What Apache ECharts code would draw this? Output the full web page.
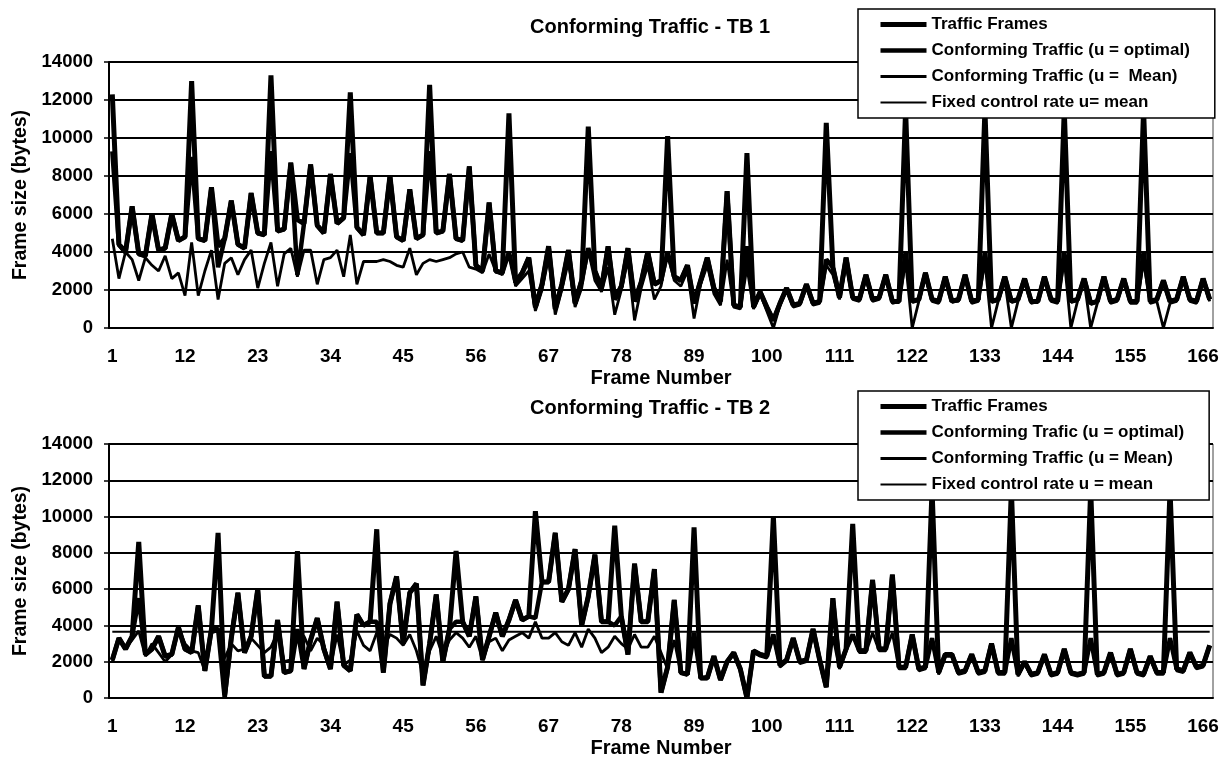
<!DOCTYPE html>
<html>
<head>
<meta charset="utf-8">
<title>Conforming Traffic</title>
<script src="https://cdn.jsdelivr.net/npm/echarts@6.0.0/dist/echarts.min.js"></script>
<style>
html, body { margin: 0; padding: 0; background: #fff; }
#report { width: 1222px; height: 759px; }
</style>
</head>
<body>
<div id="report"></div>
<script>
// frame numbers 1..167 (category axis)
var frames = [];
for (var i = 1; i <= 167; i++) frames.push(String(i));

// ---- TB 1 ----
var tb1Traffic = [
    12300, 4400, 4000, 6400, 3900, 3800, 6000, 4100, 4200, 6000, 4600, 4800,
    13000, 4700, 4600, 7400, 4300, 4700, 6700, 4400, 4200, 7100, 5000, 4900,
    13300, 5100, 5200, 8700, 5700, 5500, 8600, 5400, 5000, 8100, 5500, 5800,
    12400, 5300, 4900, 8000, 5000, 5000, 8000, 4800, 4600, 7300, 4700, 4900,
    12800, 5000, 5100, 8100, 4700, 4600, 8500, 3300, 3000, 6600, 3000, 2900,
    11300, 2400, 2900, 3700, 1100, 2300, 4300, 1000, 2300, 4100, 1300, 2500,
    10600, 3000, 2100, 4300, 1500, 2200, 4200, 1400, 2400, 4000, 2300, 2500,
    10100, 2700, 2500, 3300, 1300, 2500, 3700, 2100, 1400, 7200, 1200, 1100,
    9200, 1100, 1900, 1100, 400, 1300, 2100, 1200, 1300, 2300, 1300, 1400,
    10800, 3200, 1600, 3700, 1600, 1500, 2800, 1500, 1600, 2800, 1400, 1400,
    11500, 1400, 1500, 2900, 1500, 1400, 2700, 1400, 1500, 2800, 1400, 1500,
    11500, 1400, 1500, 2700, 1400, 1500, 2600, 1400, 1400, 2700, 1500, 1400,
    11500, 1400, 1500, 2600, 1300, 1400, 2700, 1400, 1500, 2600, 1400, 1400,
    11500, 1400, 1500, 2500, 1400, 1500, 2700, 1500, 1400, 2600, 1500
];
var tb1Optimal = [
    9300, 4400, 4000, 6400, 3900, 3800, 6000, 4100, 4200, 6000, 4600, 4800,
    9000, 4700, 4600, 7400, 3200, 4700, 6700, 4400, 4200, 7100, 5000, 4900,
    9300, 5100, 5200, 8700, 2800, 5500, 8600, 5400, 5000, 8100, 5500, 5800,
    9200, 5300, 4900, 8000, 5000, 5000, 8000, 4800, 4600, 7300, 4700, 4900,
    9300, 5000, 5100, 8100, 4700, 4600, 8500, 3300, 3000, 6600, 3000, 2900,
    4000, 2400, 2900, 3700, 1100, 2300, 4300, 1000, 2300, 4100, 1300, 2500,
    4200, 3000, 2100, 4300, 1500, 2200, 4200, 1400, 2400, 4000, 2300, 2500,
    4000, 2700, 2500, 3300, 1300, 2500, 3700, 2100, 1400, 7200, 1200, 1100,
    4300, 1100, 1900, 1100, 400, 1300, 2100, 1200, 1300, 2300, 1300, 1400,
    3600, 3200, 1600, 3700, 1600, 1500, 2800, 1500, 1600, 2800, 1400, 1400,
    4000, 1400, 1500, 2900, 1500, 1400, 2700, 1400, 1500, 2800, 1400, 1500,
    4000, 1400, 1500, 2700, 1400, 1500, 2600, 1400, 1400, 2700, 1500, 1400,
    4000, 1400, 1500, 2600, 1300, 1400, 2700, 1400, 1500, 2600, 1400, 1400,
    4000, 1400, 1500, 2500, 1400, 1500, 2700, 1500, 1400, 2600, 1500
];
var tb1Mean = [
    4700, 2600, 4000, 3600, 2500, 3700, 3300, 3000, 3800, 2600, 2900, 1700,
    4500, 1700, 3000, 4100, 1500, 3400, 3700, 2800, 3600, 4100, 2100, 3400,
    4500, 2200, 3900, 4200, 2700, 4100, 4100, 2300, 3600, 3700, 4100, 2700,
    4900, 2300, 3500, 3500, 3500, 3600, 3500, 3300, 3200, 4200, 2800, 3400,
    3600, 3500, 3600, 3700, 3900, 4000, 3200, 3100, 2900, 3900, 3000, 2800,
    4000, 2200, 2600, 3000, 900, 2000, 3700, 700, 2000, 3500, 1100, 2100,
    4100, 2500, 1900, 3200, 700, 2000, 3600, 400, 2100, 3300, 1500, 2200,
    3900, 2500, 2200, 3000, 500, 2300, 3300, 1800, 1200, 3600, 1100, 1000,
    3200, 1000, 1800, 900, 0, 1200, 2000, 1100, 1200, 2200, 1200, 1300,
    3300, 2800, 1500, 3400, 1500, 1400, 2600, 1400, 1500, 2700, 1300, 1400,
    3500, 0, 1400, 2700, 1400, 1300, 2600, 1400, 1400, 2700, 1300, 1400,
    3500, 0, 1400, 2500, 0, 1400, 2500, 1300, 1400, 2600, 1400, 1300,
    3600, 0, 1400, 2500, 0, 1300, 2600, 1300, 1400, 2500, 1300, 1300,
    3500, 1300, 1400, 0, 1300, 1400, 2500, 1400, 1300, 2500, 1400
];
var tb1FixedRate = 4000;

// ---- TB 2 ----
var tb2Traffic = [
    2100, 3300, 2700, 3400, 8600, 2400, 2700, 3400, 2300, 2400, 3900, 2700,
    2500, 5100, 1500, 3800, 9100, 200, 3300, 5800, 2500, 3400, 6000, 1200,
    1200, 4300, 1400, 1500, 8100, 1600, 3200, 4400, 2700, 1600, 5300, 1800,
    1500, 4600, 4000, 4200, 9300, 1400, 5200, 6700, 3000, 5800, 6300, 700,
    3000, 5700, 2000, 3800, 8100, 4200, 3400, 5600, 2100, 3400, 4700, 3400,
    4300, 5400, 4300, 4500, 10300, 6400, 6400, 9100, 5300, 6000, 8200, 4000,
    5600, 7900, 4200, 4200, 9500, 4500, 2400, 7400, 4200, 4200, 7100, 300,
    1700, 5400, 1400, 1300, 9400, 1100, 1100, 2300, 1000, 2000, 2500, 1600,
    0, 2600, 2400, 2300, 10000, 1800, 2100, 3300, 2000, 2100, 3800, 2100,
    600, 5500, 1700, 2700, 9600, 2600, 2600, 6500, 2700, 2700, 6800, 1700,
    1700, 3500, 1600, 1700, 11500, 1400, 2400, 2400, 1400, 1500, 2400, 1400,
    1500, 3000, 1400, 1400, 11500, 1300, 2000, 1300, 1400, 2400, 1300, 1400,
    2700, 1400, 1300, 1400, 11500, 1300, 1400, 2500, 1300, 1400, 2700, 1400,
    1300, 2300, 1400, 1400, 11500, 1600, 1500, 2500, 1700, 1800, 2900
];
var tb2Optimal = [
    2100, 3300, 2700, 3400, 5500, 2400, 2700, 3400, 2300, 2400, 3900, 2700,
    2500, 5100, 1500, 3800, 3800, 0, 3300, 5800, 2500, 3400, 6000, 1200,
    1200, 4300, 1400, 1500, 3800, 1600, 3200, 4400, 2700, 1600, 5300, 1800,
    1500, 4600, 4000, 4200, 4200, 1400, 5200, 6700, 3000, 5800, 6300, 700,
    3000, 5700, 2000, 3800, 4200, 4200, 3400, 5600, 2100, 3400, 4700, 3400,
    4300, 5400, 4300, 4500, 4400, 6400, 6400, 9100, 5300, 6000, 8200, 4000,
    5600, 7900, 4200, 4200, 4000, 4500, 2400, 7400, 4200, 4200, 7100, 300,
    1700, 5400, 1400, 1300, 3600, 1100, 1100, 2300, 1000, 2000, 2500, 1600,
    0, 2600, 2400, 2300, 3500, 1800, 2100, 3300, 2000, 2100, 3800, 2100,
    600, 5500, 1700, 2700, 3500, 2600, 2600, 6500, 2700, 2700, 6800, 1700,
    1700, 3500, 1600, 1700, 3300, 1400, 2400, 2400, 1400, 1500, 2400, 1400,
    1500, 3000, 1400, 1400, 3300, 1300, 2000, 1300, 1400, 2400, 1300, 1400,
    2700, 1400, 1300, 1400, 3300, 1300, 1400, 2500, 1300, 1400, 2700, 1400,
    1300, 2300, 1400, 1400, 3300, 1600, 1500, 2500, 1700, 1800, 2900
];
var tb2Mean = [
    2000, 3300, 2800, 3200, 3700, 2300, 3000, 2500, 2000, 2400, 3800, 3000,
    2600, 2500, 1500, 3600, 3700, 2200, 3000, 2600, 2700, 3300, 2900, 2500,
    2800, 3600, 2000, 2100, 3600, 3400, 2600, 3300, 2900, 1700, 3500, 1800,
    2100, 3700, 2900, 2600, 3600, 2700, 3500, 3300, 2900, 3500, 2600, 1300,
    2600, 3400, 2300, 3200, 3600, 3300, 2800, 3400, 2100, 3100, 3300, 2600,
    3200, 3400, 3600, 3300, 4200, 3300, 3300, 3600, 3100, 2900, 3600, 2800,
    3800, 3300, 2500, 2800, 3400, 3000, 2700, 3500, 2800, 2800, 3400, 2500,
    1600, 3200, 1400, 1300, 3500, 1100, 1200, 2200, 1000, 2000, 2400, 1500,
    0, 2500, 2300, 2200, 3400, 1700, 2000, 3200, 1900, 2000, 3600, 2000,
    600, 3400, 1600, 2600, 3500, 2500, 2500, 3600, 2600, 2600, 3600, 1600,
    1600, 3400, 1500, 1600, 3300, 1300, 2300, 2300, 1300, 1400, 2300, 1300,
    1400, 2900, 1300, 1300, 3300, 1200, 1900, 1200, 1300, 2300, 1200, 1300,
    2600, 1300, 1200, 1300, 3300, 1200, 1300, 2400, 1200, 1300, 2600, 1300,
    1200, 2200, 1300, 1300, 3300, 1500, 1400, 2400, 1600, 1700, 2800
];
var tb2FixedRate = 3650;

var FONT = '"Liberation Sans", Arial, sans-serif';
// line widths: traffic, optimal, mean, fixed
var WIDTHS = [5, 4.5, 2.8, 2];

// bold black text of a given size, plus extra props
function txt(size, extra) {
    var t = { color: '#000', fontFamily: FONT, fontWeight: 'bold', fontSize: size };
    for (var k in extra) t[k] = extra[k];
    return t;
}

var myChart = echarts.init(document.getElementById('report'));

function xAxisOf(idx) {
    return {
        type: 'category',
        gridIndex: idx,
        data: frames,
        boundaryGap: true,
        axisLine: { lineStyle: { color: '#000', width: 2 } },
        axisTick: { show: false },
        axisLabel: txt(19, { interval: 10, margin: 19 }),
        name: 'Frame Number',
        nameLocation: 'middle',
        nameGap: 40,
        nameTextStyle: txt(20)
    };
}

function yAxisOf(idx) {
    return {
        type: 'value',
        gridIndex: idx,
        min: 0,
        max: 14000,
        interval: 2000,
        axisLine: { show: true, lineStyle: { color: '#000', width: 2 } },
        axisTick: { show: true, length: 5, lineStyle: { color: '#000', width: 1.5 } },
        axisLabel: txt(18.5, { margin: 16, formatter: function (v) { return String(v); } }),
        splitLine: { lineStyle: { color: '#000', width: 2 } },
        name: 'Frame size (bytes)',
        nameLocation: 'middle',
        nameGap: 66,
        nameTextStyle: txt(19.5)
    };
}

function lineOf(name, idx, data, width) {
    return {
        name: name,
        type: 'line',
        xAxisIndex: idx,
        yAxisIndex: idx,
        data: data,
        symbol: 'none',
        silent: true,
        lineStyle: { color: '#000', width: width },
        itemStyle: { color: '#000' }
    };
}

function legendOf(top, names) {
    return {
        orient: 'vertical',
        left: 858,
        top: top,
        data: names.map(function (n, k) {
            return { name: n, lineStyle: { color: '#000', width: WIDTHS[k] } };
        }),
        itemWidth: 46,
        itemHeight: 10,
        itemGap: 9,
        padding: [7, 25, 7, 20],
        backgroundColor: '#fff',
        borderColor: '#000',
        borderWidth: 1.5,
        selectedMode: false,
        itemStyle: { opacity: 0 },
        textStyle: txt(17)
    };
}

var names1 = ['Traffic Frames', 'Conforming Traffic (u = optimal)', 'Conforming Traffic (u =  Mean)', 'Fixed control rate u= mean'];
var names2 = ['Traffic Frames', 'Conforming Trafic (u = optimal)', 'Conforming Traffic (u = Mean)', 'Fixed control rate u = mean'];

var option = {
    backgroundColor: '#fff',
    animation: false,
    title: [
        { text: 'Conforming Traffic - TB 1', left: 530, top: 17, padding: 0, textStyle: txt(20) },
        { text: 'Conforming Traffic - TB 2', left: 530, top: 398, padding: 0, textStyle: txt(20) }
    ],
    legend: [legendOf(9, names1), legendOf(391, names2)],
    grid: [
        { left: 109, top: 62, width: 1104, height: 266, show: true, borderColor: '#444', borderWidth: 1 },
        { left: 109, top: 444, width: 1104, height: 258, show: true, borderColor: '#444', borderWidth: 1 }
    ],
    xAxis: [xAxisOf(0), xAxisOf(1)],
    yAxis: [yAxisOf(0), yAxisOf(1)],
    series: [
        lineOf(names1[3], 0, frames.map(function () { return tb1FixedRate; }), WIDTHS[3]),
        lineOf(names1[2], 0, tb1Mean, WIDTHS[2]),
        lineOf(names1[1], 0, tb1Optimal, WIDTHS[1]),
        lineOf(names1[0], 0, tb1Traffic, WIDTHS[0]),
        lineOf(names2[3], 1, frames.map(function () { return tb2FixedRate; }), WIDTHS[3]),
        lineOf(names2[2], 1, tb2Mean, WIDTHS[2]),
        lineOf(names2[1], 1, tb2Optimal, WIDTHS[1]),
        lineOf(names2[0], 1, tb2Traffic, WIDTHS[0])
    ]
};

myChart.setOption(option);
</script>
</body>
</html>
